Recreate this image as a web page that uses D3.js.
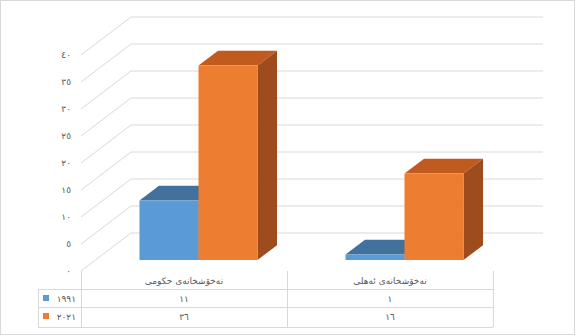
<html>
<head>
<style>
    body { margin: 0; background: #ffffff; }
    svg { display: block; }
    text { font-family: "DejaVu Sans", sans-serif; fill: #595959; }
</style>
<script src="https://d3js.org/d3.v7.min.js"></script>
</head>
<body>
<svg id="chart"></svg>
<script>

let categories = ["نەخۆشخانەی حکومی", "نەخۆشخانەی ئەهلی"]
let seriesNames = ["1991", "2021"]
let values1991 = [11, 1]
let values2021 = [36, 16]
let yTicks = [0, 5, 10, 15, 20, 25, 30, 35, 40]

let colors = ["#5b9bd5", "#ed7d31"]
let topColors = ["#41719c", "#c05a1f"]
let sideColors = ["#3a6591", "#9e4b1d"]

let width = 576, height = 336
let svg = d3.select("#chart").attr("width", width).attr("height", height)

// eastern arabic digits
function ar(n) {
  return String(n).replace(/[0-9]/g, c => "٠١٢٣٤٥٦٧٨٩"[+c])
}

// 3d depth offset
let depthX = 50, depthY = -38
let left = 81, right = 493

let y = d3.scaleLinear().domain([0, 40]).range([271, 55])
let x = d3.scaleBand().domain(categories).range([left, right])
let xSub = d3.scaleBand().domain(seriesNames).range([0, x.bandwidth()]).paddingOuter(0.745)

function pt(px, v, d) {
  return [px + d * depthX, y(v) + d * depthY]
}

// outer border
svg.append("rect")
  .attr("x", 0.5).attr("y", 0.5)
  .attr("width", width - 2).attr("height", height - 2)
  .attr("fill", "none").attr("stroke", "#d9d9d9")

// gridlines: diagonal on side wall + horizontal on back wall
let grid = svg.append("g").attr("stroke", "#d9d9d9").attr("fill", "none")
yTicks.forEach(t => {
  let a = pt(left, t, 0), b = pt(left, t, 1), c = pt(right, t, 1)
  grid.append("path").attr("d", d3.line()([a, b, c]))
})

// y labels
svg.append("g").selectAll("text").data(yTicks).enter().append("text")
  .attr("x", 71).attr("y", d => y(d) + 3)
  .attr("text-anchor", "end")
  .attr("font-size", 9)
  .text(d => ar(d))

// bars
let d0 = 0.29, d1 = 0.68
let data = []
categories.forEach((cat, i) => {
  data.push({cat, s: 0, v: values1991[i]})
  data.push({cat, s: 1, v: values2021[i]})
})

let bars = svg.append("g")
data.forEach(d => {
  let x0 = x(d.cat) + xSub(seriesNames[d.s])
  let x1 = x0 + xSub.bandwidth()
  let g = bars.append("g")
  // top
  g.append("path")
    .attr("d", d3.line()([pt(x0, d.v, d0), pt(x1, d.v, d0), pt(x1, d.v, d1), pt(x0, d.v, d1)]) + "Z")
    .attr("fill", topColors[d.s])
  // side
  g.append("path")
    .attr("d", d3.line()([pt(x1, d.v, d0), pt(x1, 0, d0), pt(x1, 0, d1), pt(x1, d.v, d1)]) + "Z")
    .attr("fill", sideColors[d.s])
  // front
  let f = pt(x0, d.v, d0), fb = pt(x1, 0, d0)
  g.append("rect")
    .attr("x", f[0]).attr("y", f[1])
    .attr("width", fb[0] - f[0]).attr("height", fb[1] - f[1])
    .attr("fill", colors[d.s])
})

// data table
let rowY = [271, 289, 307, 327]
let legendLeft = 38
let table = svg.append("g").attr("stroke", "#d9d9d9")
let cols = [left, x(categories[1]), right]
cols.forEach(cx => {
  table.append("line").attr("x1", cx + 0.5).attr("x2", cx + 0.5)
    .attr("y1", rowY[0]).attr("y2", rowY[3])
})
table.append("line").attr("x1", legendLeft + 0.5).attr("x2", legendLeft + 0.5)
  .attr("y1", rowY[1]).attr("y2", rowY[3])
rowY.slice(1).forEach(ry => {
  table.append("line").attr("x1", legendLeft).attr("x2", right)
    .attr("y1", ry + 0.5).attr("y2", ry + 0.5)
})

let tt = svg.append("g").attr("font-size", 9).attr("text-anchor", "middle")
categories.forEach(cat => {
  tt.append("text").attr("x", x(cat) + x.bandwidth() / 2).attr("y", rowY[0] + 13).text(cat)
})
let rows = [values1991, values2021]
rows.forEach((vals, r) => {
  vals.forEach((v, i) => {
    tt.append("text")
      .attr("x", x(categories[i]) + x.bandwidth() / 2)
      .attr("y", rowY[r + 1] + 13)
      .text(ar(v))
  })
  svg.append("rect")
    .attr("x", 43).attr("y", rowY[r + 1] + 6)
    .attr("width", 6).attr("height", 6)
    .attr("fill", colors[r])
  svg.append("text")
    .attr("x", 76).attr("y", rowY[r + 1] + 13)
    .attr("text-anchor", "end").attr("font-size", 9)
    .text(ar(seriesNames[r]))
})

</script>
</body>
</html>
